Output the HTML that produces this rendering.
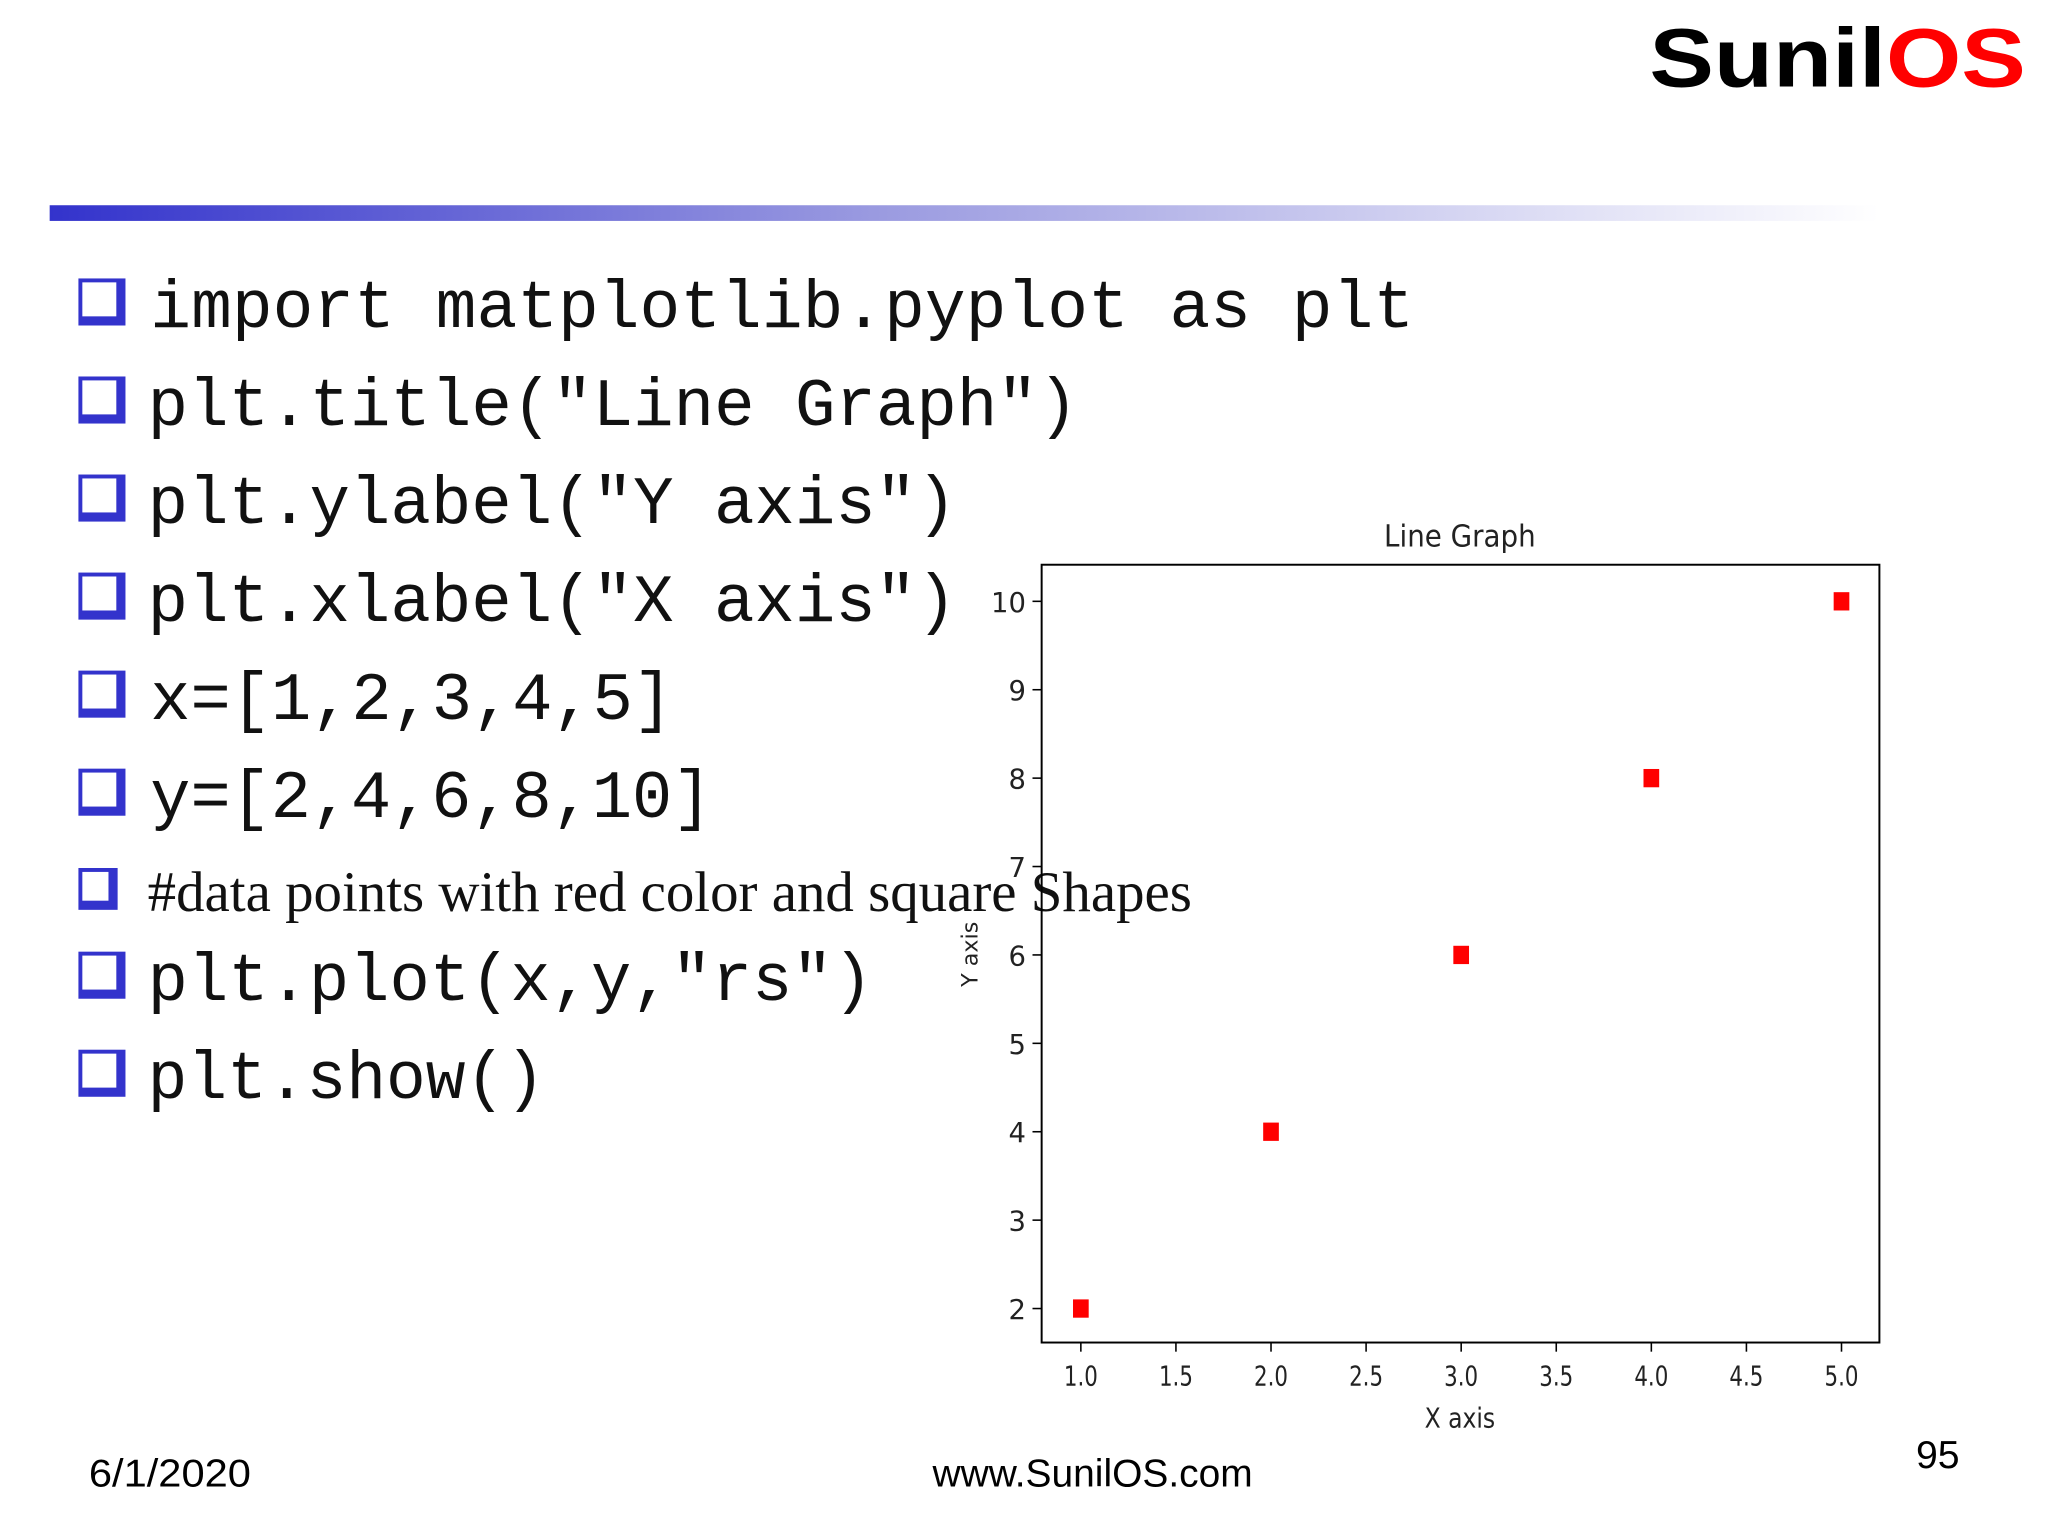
<!DOCTYPE html>
<html><head><meta charset="utf-8"><style>
html,body{margin:0;padding:0;background:#fff;}
svg{display:block;}
</style></head><body>
<svg id="s" width="2048" height="1536" viewBox="0 0 1567 1175" preserveAspectRatio="none" xmlns="http://www.w3.org/2000/svg">
<defs>
<linearGradient id="g" x1="0" x2="1" y1="0" y2="0">
<stop offset="0" stop-color="#3333cc"/><stop offset="0.45" stop-color="#9a9ae0"/><stop offset="1" stop-color="#ffffff"/>
</linearGradient>
</defs>
<text x="1262" y="66" font-family="Liberation Sans, sans-serif" font-weight="bold" font-size="64" textLength="288" lengthAdjust="spacingAndGlyphs"><tspan fill="#000">Sunil</tspan><tspan fill="#ff0000">OS</tspan></text>
<rect x="38" y="157" width="1400" height="12" fill="url(#g)"/>
<g id="bullets" font-family="Liberation Mono, monospace" font-size="52" fill="#111"></g>
<g id="chart" font-family="DejaVu Sans, sans-serif" fill="#222"></g>
<text x="68" y="1137" font-family="Liberation Sans, sans-serif" font-size="30" textLength="124" lengthAdjust="spacingAndGlyphs">6/1/2020</text>
<text x="836" y="1137" text-anchor="middle" font-family="Liberation Sans, sans-serif" font-size="30" textLength="245" lengthAdjust="spacingAndGlyphs">www.SunilOS.com</text>
<text x="1466" y="1123" font-family="Liberation Sans, sans-serif" font-size="30">95</text>
</svg>
<script>
const NS='http://www.w3.org/2000/svg';
const xValues=[1,2,3,4,5];
const yValues=[2,4,6,8,10];
const xTicks=[1.0,1.5,2.0,2.5,3.0,3.5,4.0,4.5,5.0];
const yTicks=[2,3,4,5,6,7,8,9,10];
const lines=[
 ['import matplotlib.pyplot as plt',250,115,'mono',967],
 ['plt.title("Line Graph")',325,113,'mono',712],
 ['plt.ylabel("Y axis")',400,113,'mono',619],
 ['plt.xlabel("X axis")',475,113,'mono',619],
 ['x=[1,2,3,4,5]',550,115,'mono',400],
 ['y=[2,4,6,8,10]',625,115,'mono',430],
 ['#data points with red color and square Shapes',697,113,'times',799],
 ['plt.plot(x,y,"rs")',765,113,'mono',555],
 ['plt.show()',840,113,'mono',304]
];
function mk(t,a,p){const e=document.createElementNS(NS,t);for(const k in a)e.setAttribute(k,a[k]);(p||document.getElementById('s')).appendChild(e);return e;}
const bl=document.getElementById('bullets');
lines.forEach((l,i)=>{
 const g=mk('g',{},bl);
 
 
 const times=l[3]==='times';
 const top=times?l[1]-33:l[1]-37, w=times?30:36, h=times?32:36, bx=60;
 mk('rect',{x:bx,y:top,width:w,height:h,fill:'#3333cc'},g);
 mk('rect',{x:bx+3,y:top+3,width:w-10,height:h-10,fill:'#fff'},g);
 const t=mk('text',{x:l[2],y:l[1],textLength:l[4],lengthAdjust:'spacingAndGlyphs'},g);
 if(times){t.setAttribute('font-family','Liberation Serif, serif');t.setAttribute('font-size','44');}
 t.textContent=l[0];
});
const ch=document.getElementById('chart');
const L=797,R=1438,T=432,B=1027;
const xs=v=>827+(v-1)*(1409-827)/4;
const ys=v=>1001-(v-2)*(1001-460)/8;
const title=mk('text',{x:1117,y:418,'text-anchor':'middle','font-size':23,textLength:116,lengthAdjust:'spacingAndGlyphs'},ch);

title.textContent='Line Graph';
const frame=mk('rect',{x:L,y:T,width:R-L,height:B-T,fill:'none',stroke:'#000','stroke-width':1.5},ch);

xTicks.forEach(v=>{
 const x=xs(v);
 mk('line',{x1:x,x2:x,y1:B,y2:B+7,stroke:'#000','stroke-width':1.2},ch);
 const t=mk('text',{x:x,y:B+33,'text-anchor':'middle','font-size':21,textLength:26,lengthAdjust:'spacingAndGlyphs'},ch);
 
 t.textContent=v.toFixed(1);
});
yTicks.forEach(v=>{
 const y=ys(v);
 mk('line',{x1:L-7,x2:L,y1:y,y2:y,stroke:'#000','stroke-width':1.2},ch);
 const t=mk('text',{x:L-12,y:y+8,'text-anchor':'end','font-size':21},ch);
 
 t.textContent=v;
});
const xl=mk('text',{x:1117,y:1092,'text-anchor':'middle','font-size':21,textLength:54,lengthAdjust:'spacingAndGlyphs'},ch);

xl.textContent='X axis';
const yl=mk('text',{x:0,y:0,'text-anchor':'middle','font-size':17,transform:'translate(748,730) rotate(-90)'},ch);

yl.textContent='Y axis';
xValues.forEach((xv,i)=>{
 const r=mk('rect',{x:xs(xv)-6,y:ys(yValues[i])-7,width:12,height:14,fill:'#ff0000'},ch);
 
 
});
</script>
</body></html>
